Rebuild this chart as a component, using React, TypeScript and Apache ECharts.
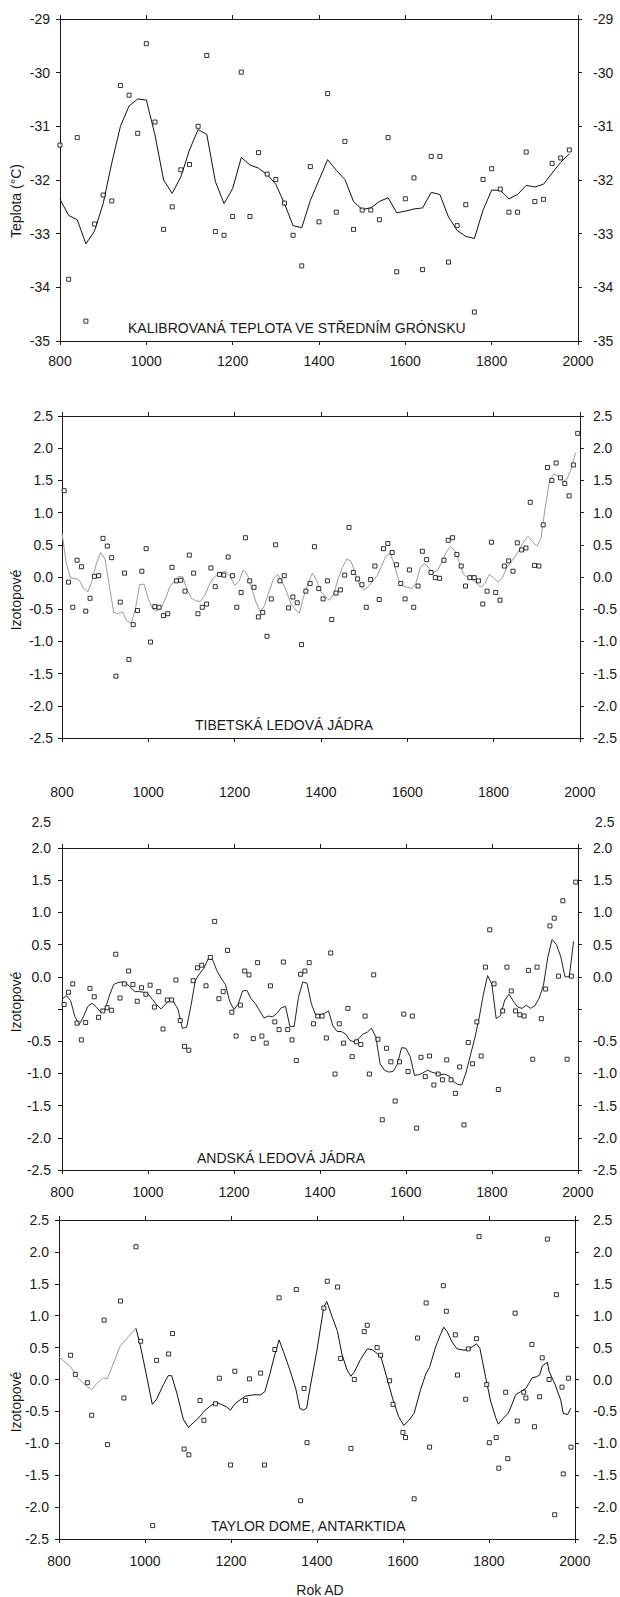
import React, { useEffect, useRef } from "react";
import * as echarts from "echarts";

const FONT = '"Liberation Sans", Arial, Helvetica, sans-serif';
const INK = "#1a1a1a";

// ---------- Panel 1: Greenland calibrated temperature ----------
const greenlandYears = [
  800, 820, 840, 860, 880, 900, 920, 940, 960, 980, 1000, 1020, 1040, 1060, 1080, 1100, 1120, 1140, 1160, 1180,
  1200, 1220, 1240, 1260, 1280, 1300, 1320, 1340, 1360, 1380, 1400, 1420, 1440, 1460, 1480, 1500, 1520, 1540, 1560, 1580,
  1600, 1620, 1640, 1660, 1680, 1700, 1720, 1740, 1760, 1780, 1800, 1820, 1840, 1860, 1880, 1900, 1920, 1940, 1960, 1980,
];
const greenlandPoints = [
  -31.35, -33.85, -31.21, -34.63, -32.82, -32.28, -32.39, -30.24, -30.42, -31.13,
  -29.46, -30.92, -32.92, -32.5, -31.81, -31.71, -31.0, -29.68, -32.96, -33.03,
  -32.68, -29.99, -32.68, -31.49, -31.89, -31.99, -32.43, -33.03, -33.6, -31.75,
  -32.78, -30.39, -32.6, -31.28, -32.92, -32.56, -32.56, -32.74, -31.21, -33.71,
  -32.35, -31.96, -33.67, -31.56, -31.56, -33.53, -32.85, -32.46, -34.46, -31.99,
  -31.79, -32.17, -32.6, -32.6, -31.48, -32.4, -32.36, -31.69, -31.59, -31.44,
];
const greenlandSmooth = [
  -32.36, -32.66, -32.74, -33.19, -32.95, -32.44, -31.68, -31.0, -30.62, -30.49,
  -30.51, -31.16, -32.0, -32.25, -31.94, -31.44, -31.06, -31.15, -32.03, -32.44,
  -32.16, -31.58, -31.72, -31.78, -31.9, -32.08, -32.44, -32.85, -32.89, -32.38,
  -32.0, -31.62, -31.82, -31.99, -32.4, -32.55, -32.52, -32.4, -32.33, -32.61,
  -32.58, -32.54, -32.52, -32.23, -32.27, -32.69, -32.94, -33.05, -33.09, -32.56,
  -32.19, -32.19, -32.35, -32.27, -32.1, -32.13, -32.08, -31.87, -31.67, -31.51,
];

// decade positions (x categories) for the 10-year records
const decadeYears = (start: number, count: number) => Array.from({ length: count }, (_, i) => start + 10 * i);
const pointYears10 = decadeYears(805, 120);
const smoothYears10 = decadeYears(800, 120);

// ---------- Panel 2: Tibetan ice cores ----------
const tibetPoints = [
  1.34, -0.08, -0.47, 0.26, 0.16, -0.53, -0.33, 0.01, 0.02, 0.6,
  0.48, 0.3, -1.54, -0.39, 0.06, -1.28, -0.74, -0.52, 0.09, 0.44,
  -1.01, -0.46, -0.47, -0.6, -0.57, 0.15, -0.06, -0.05, -0.22, 0.34,
  0.06, -0.57, -0.47, -0.42, 0.14, -0.15, 0.04, 0.03, 0.31, 0.02,
  -0.47, -0.24, 0.61, -0.06, -0.16, -0.62, -0.55, -0.92, -0.34, 0.5,
  -0.06, 0.02, -0.48, -0.31, -0.4, -1.05, -0.22, -0.1, 0.47, -0.18,
  -0.34, -0.06, -0.66, -0.25, -0.2, 0.03, 0.77, 0.07, -0.03, -0.12,
  -0.47, -0.04, 0.17, -0.35, 0.44, 0.52, 0.38, 0.19, -0.1, -0.34,
  0.11, -0.47, -0.14, 0.4, 0.27, 0.07, -0.01, -0.02, 0.26, 0.57,
  0.61, 0.35, 0.17, -0.14, -0.01, -0.01, -0.06, -0.42, -0.22, 0.54,
  -0.24, -0.36, 0.17, 0.25, 0.09, 0.53, 0.42, 0.45, 1.16, 0.18,
  0.17, 0.81, 1.7, 1.5, 1.77, 1.54, 1.45, 1.26, 1.74, 2.23,
];
const tibetSmooth = [
  0.68, 0.21, -0.02, -0.02, -0.05, -0.18, -0.23, -0.05, 0.22, 0.38,
  0.27, -0.15, -0.55, -0.57, -0.54, -0.68, -0.72, -0.5, -0.12, -0.11,
  -0.34, -0.49, -0.53, -0.48, -0.33, -0.15, -0.07, 0.01, 0.0, -0.2,
  -0.33, -0.37, -0.38, -0.3, -0.14, -0.02, 0.04, 0.07, 0.09, 0.01,
  -0.13, -0.07, 0.11, 0.03, -0.19, -0.4, -0.55, -0.43, -0.22, -0.03,
  0.04, -0.07, -0.22, -0.41, -0.5, -0.56, -0.3, -0.1, 0.06, -0.05,
  -0.23, -0.3, -0.36, -0.26, -0.02, 0.15, 0.28, 0.24, 0.05, -0.13,
  -0.2, -0.15, -0.06, 0.02, 0.16, 0.32, 0.37, 0.2, -0.05, -0.14,
  -0.16, -0.18, -0.1, 0.14, 0.21, 0.14, 0.07, 0.1, 0.23, 0.38,
  0.47, 0.41, 0.24, 0.05, -0.02, -0.04, -0.09, -0.16, -0.1, 0.04,
  -0.01, -0.08, -0.02, 0.14, 0.23, 0.32, 0.42, 0.55, 0.63, 0.55,
  0.48, 0.6, 1.1, 1.5, 1.6, 1.56, 1.48, 1.52, 1.68, 1.93,
];

// ---------- Panel 3: Andean ice cores ----------
const andesPoints = [
  0.07, 0.26, 0.39, -0.22, -0.48, -0.21, 0.32, 0.19, -0.13, -0.03,
  0.02, -0.02, 0.85, 0.17, 0.39, 0.59, 0.38, 0.12, 0.33, 0.23,
  0.37, 0.03, 0.27, -0.31, 0.14, 0.14, 0.45, -0.18, -0.58, -0.64,
  0.44, 0.64, 0.68, 0.36, 0.8, 1.36, 0.16, 0.27, 0.91, -0.05,
  -0.42, 0.06, 0.59, 0.53, -0.46, 0.72, -0.42, -0.53, 0.36, -0.2,
  -0.32, 0.73, -0.32, -0.48, -0.8, 0.54, 0.59, 0.72, -0.23, -0.11,
  -0.11, -0.45, 0.87, -1.01, -0.23, -0.53, 0.01, -0.74, -0.51, -0.55,
  -0.11, -1.01, 0.53, -0.47, -1.72, -0.61, -0.82, -1.43, -0.82, -0.08,
  -0.97, -0.11, -1.85, -0.75, -1.05, -0.73, -1.18, -1.01, -1.1, -0.79,
  -1.1, -1.31, -0.9, -1.8, -0.52, -0.85, -0.2, -0.73, 0.65, 1.23,
  0.39, -1.25, -0.03, 0.65, 0.28, -0.03, -0.09, -0.11, 0.6, -0.78,
  0.65, -0.15, 0.31, 1.29, 1.41, 0.51, 1.68, -0.78, 0.51, 1.97,
];
const andesSmooth = [
  0.15, 0.21, 0.13, -0.12, -0.24, -0.12, 0.04, 0.09, 0.03, -0.05,
  -0.01, 0.2, 0.38, 0.41, 0.42, 0.4, 0.33, 0.27, 0.27, 0.26,
  0.24, 0.15, 0.07, 0.0, 0.07, 0.14, 0.11, -0.01, -0.3, -0.28,
  0.05, 0.44, 0.55, 0.63, 0.78, 0.77, 0.6, 0.48, 0.38, 0.12,
  -0.01, 0.08, 0.28, 0.29, 0.16, 0.08, -0.03, -0.14, -0.11, -0.12,
  -0.07, 0.02, 0.04, -0.27, -0.27, 0.18, 0.42, 0.4, 0.08, -0.09,
  -0.1, -0.07, -0.03, -0.26, -0.35, -0.35, -0.39, -0.49, -0.51, -0.46,
  -0.39, -0.36, -0.3, -0.43, -0.85, -0.95, -0.98, -0.97, -0.86, -0.6,
  -0.61, -0.74, -1.03, -1.02, -0.99, -0.95, -0.98, -1.0, -1.02, -1.01,
  -1.04, -1.12, -1.17, -1.18, -0.98, -0.72, -0.46, -0.15, 0.22, 0.52,
  0.38, -0.15, -0.1, 0.14, 0.23, 0.12, 0.03, 0.01, 0.06, 0.01,
  0.05, 0.17, 0.37, 0.8, 1.08, 1.0, 0.82, 0.5, 0.5, 1.05,
];
const andesTickLabels = ["2.0", "1.5", "1.0", "0.5", "0.0", "", "-0.5", "-1.0", "-1.5", "-2.0", "-2.5"];

// ---------- Panel 4: Taylor Dome, Antarctica ----------
const taylorYears = [
  827, 838, 866, 876, 905, 913, 943, 951, 979, 990, 1018, 1027, 1055, 1064, 1091, 1102, 1128, 1137, 1164, 1173,
  1199, 1209, 1234, 1243, 1269, 1278, 1302, 1312, 1352, 1362, 1370, 1377, 1416, 1424, 1448, 1455, 1479, 1487, 1510, 1517,
  1540, 1548, 1569, 1577, 1600, 1606, 1626, 1634, 1654, 1662, 1694, 1701, 1722, 1727, 1746, 1752, 1771, 1777, 1795, 1801,
  1817, 1823, 1839, 1844, 1861, 1866, 1881, 1886, 1900, 1906, 1918, 1924, 1936, 1940, 1953, 1957, 1970, 1973, 1985, 1991,
];
const taylorPoints = [
  0.38, 0.08, -0.05, -0.56, 0.93, -1.02, 1.23, -0.29, 2.08, 0.6, -2.29, 0.3, 0.4, 0.72, -1.09, -1.18, -0.33, -0.64, -0.38, 0.02,
  -1.34, 0.13, -0.33, 0.01, 0.1, -1.34, 0.47, 1.28, 1.41, -1.9, -0.14, -0.99, 1.12, 1.54, 1.45, 0.33, -1.08, 0.0, 0.75, 0.85,
  0.5, 0.38, -0.02, -0.39, -0.83, -0.91, -1.87, 0.65, 1.2, -1.06, 1.47, 1.07, 0.7, 0.07, -0.31, 0.48, 0.64, 2.24, -0.08, -0.99,
  -0.91, -1.39, -0.2, -1.24, 1.04, -0.65, -0.2, -0.29, 0.55, -0.74, -0.27, 0.34, 2.2, 0.0, -2.12, 1.33, -0.12, -1.48, 0.02, -1.06,
];
const taylorSmoothEarlyYears = [800, 826, 841, 860, 876, 888, 903, 912, 930, 942, 961, 979];
const taylorSmoothEarly = [0.35, 0.21, 0.05, -0.08, -0.16, -0.06, 0.03, 0.01, 0.31, 0.52, 0.67, 0.8];
const taylorSmoothYears = [
  979, 988, 1004, 1017, 1027, 1043, 1054, 1062, 1074, 1089, 1101, 1112, 1128, 1137, 1151, 1164, 1174, 1190, 1199, 1209,
  1221, 1234, 1252, 1269, 1279, 1291, 1302, 1312, 1322, 1337, 1351, 1360, 1368, 1376, 1384, 1400, 1416, 1423, 1435, 1448,
  1458, 1470, 1479, 1487, 1501, 1517, 1528, 1540, 1550, 1563, 1577, 1590, 1602, 1614, 1626, 1641, 1654, 1662, 1676, 1687,
  1695, 1703, 1714, 1726, 1742, 1752, 1761, 1771, 1779, 1792, 1804, 1816, 1822, 1833, 1845, 1855, 1862, 1874, 1886, 1893,
  1901, 1910, 1918, 1924, 1936, 1940, 1954, 1967, 1973, 1983, 1991,
];
const taylorSmooth = [
  0.8, 0.57, 0.05, -0.39, -0.31, -0.08, 0.06, 0.06, -0.21, -0.62, -0.75, -0.68, -0.58, -0.5, -0.42, -0.36, -0.38, -0.43, -0.48, -0.38,
  -0.32, -0.26, -0.24, -0.24, -0.19, 0.1, 0.39, 0.62, 0.44, 0.15, -0.15, -0.45, -0.48, -0.45, -0.13, 0.46, 1.14, 1.22, 0.99, 0.75,
  0.4, 0.15, 0.05, 0.12, 0.31, 0.48, 0.47, 0.41, 0.33, 0.02, -0.32, -0.58, -0.72, -0.64, -0.53, -0.16, 0.1, 0.19, 0.51, 0.7,
  0.82, 0.75, 0.59, 0.48, 0.46, 0.47, 0.51, 0.56, 0.49, 0.05, -0.34, -0.6, -0.7, -0.61, -0.53, -0.37, -0.24, -0.19, -0.14, -0.06,
  0.03, 0.04, 0.07, 0.21, 0.27, 0.13, -0.08, -0.32, -0.53, -0.55, -0.45,
];

const yearTicks = { min: 800, max: 2000, interval: 200 };

const zip = (xs: number[], ys: number[]) => ys.map((y, i) => [xs[i], y]);

type PanelDef = {
  left: number;
  top: number;
  width: number;
  height: number;
  yMin: number;
  yMax: number;
  yStep: number;
  yFmt: (v: number) => string;
  xLabelMargin: number;
  leftMargin: number;
  rightMargin: number;
};

const panels: PanelDef[] = [
  { left: 60, top: 19, width: 518, height: 322, yMin: -35, yMax: -29, yStep: 1, yFmt: (v) => String(Math.round(v)), xLabelMargin: 13, leftMargin: 10, rightMargin: 15 },
  { left: 62, top: 416, width: 519, height: 322, yMin: -2.5, yMax: 2.5, yStep: 0.5, yFmt: (v) => (Math.round(v * 10) / 10).toFixed(1), xLabelMargin: 47, leftMargin: 9, rightMargin: 13 },
  { left: 62, top: 848, width: 518, height: 322, yMin: -2.5, yMax: 2.5, yStep: 0.5, yFmt: (v) => andesTickLabels[Math.round((2.5 - v) / 0.5)] ?? "", xLabelMargin: 15, leftMargin: 11, rightMargin: 15 },
  { left: 59, top: 1220, width: 518, height: 319, yMin: -2.5, yMax: 2.5, yStep: 0.5, yFmt: (v) => (Math.round(v * 10) / 10).toFixed(1), xLabelMargin: 15, leftMargin: 10, rightMargin: 18 },
];

const lineStyle = { color: INK, width: 1 };
const labelBase = { color: INK, fontSize: 14, fontFamily: FONT };

function buildOption() {
  const grid: any[] = [];
  const xAxis: any[] = [];
  const yAxis: any[] = [];
  panels.forEach((p, i) => {
    grid.push({ left: p.left, top: p.top, width: p.width, height: p.height, containLabel: false });
    const xBase = {
      gridIndex: i,
      type: "value",
      min: yearTicks.min,
      max: yearTicks.max,
      interval: yearTicks.interval,
      axisLine: { show: true, onZero: false, lineStyle },
      axisTick: { show: true, inside: false, length: 4, lineStyle },
      splitLine: { show: false },
    };
    xAxis.push({ ...xBase, position: "bottom", axisLabel: { ...labelBase, margin: p.xLabelMargin, formatter: (v: number) => String(v) } });
    xAxis.push({ ...xBase, position: "top", axisLabel: { show: false } });
    const yBase = {
      gridIndex: i,
      type: "value",
      min: p.yMin,
      max: p.yMax,
      interval: p.yStep,
      axisLine: { show: true, onZero: false, lineStyle },
      axisTick: { show: true, inside: false, length: 4, lineStyle },
      splitLine: { show: false },
    };
    yAxis.push({ ...yBase, position: "left", axisLabel: { ...labelBase, margin: p.leftMargin, formatter: p.yFmt } });
    yAxis.push({ ...yBase, position: "right", axisLabel: { ...labelBase, margin: p.rightMargin, formatter: p.yFmt } });
  });

  const scatter = (i: number, data: number[][]) => ({
    type: "scatter",
    xAxisIndex: 2 * i,
    yAxisIndex: 2 * i,
    data,
    symbol: "rect",
    symbolSize: 4,
    itemStyle: { color: "#ffffff", borderColor: "#000000", borderWidth: 1 },
    z: 5,
  });
  const line = (i: number, data: number[][], color: string) => ({
    type: "line",
    xAxisIndex: 2 * i,
    yAxisIndex: 2 * i,
    data,
    symbol: "none",
    showSymbol: false,
    lineStyle: { color, width: 1 },
    z: 3,
  });

  const series = [
    line(0, zip(greenlandYears, greenlandSmooth), "#111"),
    scatter(0, zip(greenlandYears, greenlandPoints)),
    line(1, zip(smoothYears10, tibetSmooth), "#9a9a9a"),
    scatter(1, zip(pointYears10, tibetPoints)),
    line(2, zip(smoothYears10, andesSmooth), "#222"),
    scatter(2, zip(pointYears10, andesPoints)),
    line(3, zip(taylorSmoothEarlyYears, taylorSmoothEarly), "#9a9a9a"),
    line(3, zip(taylorSmoothYears, taylorSmooth), "#111"),
    scatter(3, zip(taylorYears, taylorPoints)),
  ];

  const txt = (text: string, x: number, y: number, align: string, extra: any = {}) => ({
    type: "text",
    x,
    y,
    silent: true,
    ...extra,
    style: { text, fill: INK, fontSize: 14, fontFamily: FONT, textAlign: align, textVerticalAlign: "middle" },
  });
  const rot = { rotation: Math.PI / 2 };

  const graphic = [
    txt("KALIBROVANÁ TEPLOTA VE STŘEDNÍM GRÓNSKU", 128, 328, "left"),
    txt("TIBETSKÁ LEDOVÁ JÁDRA", 195, 725, "left"),
    txt("ANDSKÁ LEDOVÁ JÁDRA", 197, 1158, "left"),
    txt("TAYLOR DOME, ANTARKTIDA", 211, 1526, "left"),
    txt("Teplota (°C)", 16, 201, "center", rot),
    txt("Izotopové", 16, 600, "center", rot),
    txt("Izotopové", 16, 1002, "center", rot),
    txt("Izotopové", 16, 1402, "center", rot),
    txt("Rok AD", 320, 1590, "center"),
    txt("2.5", 51, 822, "right"),
    txt("2.5", 595, 822, "left"),
  ];

  return {
    animation: false,
    backgroundColor: "#ffffff",
    textStyle: { fontFamily: FONT },
    grid,
    xAxis,
    yAxis,
    series,
    graphic,
  };
}

export default function App() {
  const ref = useRef<HTMLDivElement>(null);
  useEffect(() => {
    if (!ref.current) return;
    const chart = echarts.init(ref.current, undefined, { renderer: "svg" });
    chart.setOption(buildOption() as any);
    return () => chart.dispose();
  }, []);
  return (
    <div
      ref={ref}
      style={{ position: "absolute", left: 0, top: 0, width: 620, height: 1597, background: "#fff" }}
    />
  );
}
